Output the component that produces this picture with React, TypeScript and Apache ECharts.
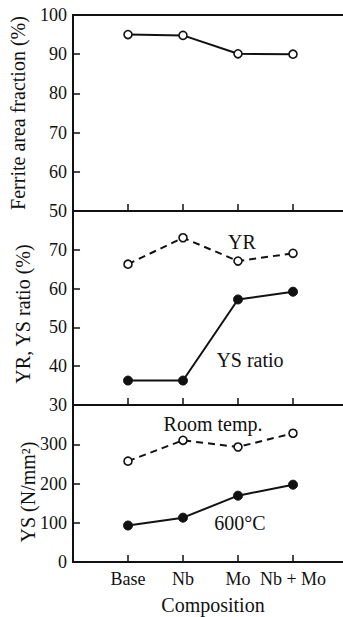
import React, { useEffect, useRef } from "react";
import * as echarts from "echarts";

const categories = ["Base", "Nb", "Mo", "Nb + Mo"];
const ferrite = [95, 94.8, 90.1, 90];
const yr = [66.3, 73.1, 67.1, 69.1];
const ysRatio = [36.3, 36.3, 57.2, 59.2];
const ysRoom = [257, 310, 293, 328];
const ys600 = [93, 113, 169, 197];

const FONT = "'Liberation Serif', 'Times New Roman', serif";

const toPairs = (vals: number[]) => vals.map((v, i) => [i + 1, v]);

export default function App() {
  const ref = useRef<HTMLDivElement>(null);
  useEffect(() => {
    document.body.style.margin = "0";
    if (!ref.current) return;
    const chart = echarts.init(ref.current, null, { renderer: "svg" });
    const grids = [
      { left: 73, width: 275, top: 15, height: 196 },
      { left: 73, width: 275, top: 211, height: 194 },
      { left: 73, width: 275, top: 405, height: 157 },
    ].map((g) => ({
      ...g,
      show: true,
      borderColor: "#111",
      borderWidth: 2,
      backgroundColor: "transparent",
      containLabel: false,
      outerBoundsMode: "none",
    }));

    const xAxes = [0, 1, 2].map((i) => ({
      type: "value",
      gridIndex: i,
      min: 0,
      max: 5,
      interval: 1,
      splitLine: { show: false },
      axisLine: { show: true, lineStyle: { color: "#111", width: 2 } },
      axisTick: { show: true, inside: true, length: 7, lineStyle: { color: "#111", width: 1.5 } },
      axisLabel: {
        show: i === 2,
        margin: 8,
        color: "#111",
        fontFamily: FONT,
        fontSize: 18,
        formatter: (v: number) => categories[v - 1] ?? "",
      },
    }));

    const yBase = (i: number, min: number, max: number, interval: number, hide: number | null) => ({
      type: "value",
      gridIndex: i,
      min,
      max,
      interval,
      splitLine: { show: false },
      axisLine: { show: true, lineStyle: { color: "#111", width: 2 } },
      axisTick: { show: true, inside: true, length: 7, lineStyle: { color: "#111", width: 1.5 } },
      axisLabel: {
        color: "#111",
        fontFamily: FONT,
        fontSize: 18,
        margin: 6,
        formatter: (v: number) => (hide !== null && v === hide ? "" : String(v)),
      },
    });

    const openSym = { color: "#fff", borderColor: "#111", borderWidth: 1.6 };
    const fillSym = { color: "#111", borderColor: "#111", borderWidth: 1 };
    const mk = (
      name: string,
      vals: number[],
      idx: number,
      dashed: boolean,
      open: boolean
    ) => ({
      name,
      type: "line",
      xAxisIndex: idx,
      yAxisIndex: idx,
      data: toPairs(vals),
      symbol: "circle",
      symbolSize: open ? 8 : 9,
      itemStyle: open ? openSym : fillSym,
      lineStyle: { color: "#111", width: 2, type: dashed ? [7, 5] : "solid" },
      z: 5,
    });

    const txt = (text: string, x: number, y: number, size: number, rot = 0) => ({
      type: "text",
      x,
      y,
      rotation: rot,
      style: {
        text,
        fill: "#111",
        font: `${size}px ${FONT}`,
        textAlign: "center",
        textVerticalAlign: "middle",
      },
    });

    chart.setOption({
      animation: false,
      grid: grids,
      xAxis: xAxes,
      yAxis: [
        yBase(0, 50, 100, 10, null),
        yBase(1, 30, 80, 10, 80),
        yBase(2, 0, 400, 100, 400),
      ],
      series: [
        mk("Ferrite", ferrite, 0, false, true),
        mk("YR", yr, 1, true, true),
        mk("YS ratio", ysRatio, 1, false, false),
        mk("Room temp.", ysRoom, 2, true, true),
        mk("600°C", ys600, 2, false, false),
      ],
      graphic: [
        txt("YR", 242, 242, 20),
        txt("YS ratio", 250, 360, 20),
        txt("Room temp.", 213, 424, 20),
        txt("600°C", 240, 523, 20),
        txt("Composition", 213, 605, 20),
        txt("Ferrite area fraction (%)", 18, 113, 20, Math.PI / 2),
        txt("YR, YS ratio (%)", 23, 314, 20, Math.PI / 2),
        txt("YS (N/mm²)", 28, 492, 20, Math.PI / 2),
      ],
    });
    return () => chart.dispose();
  }, []);
  return <div ref={ref} style={{ width: 343, height: 617, background: "#fff" }} />;
}
